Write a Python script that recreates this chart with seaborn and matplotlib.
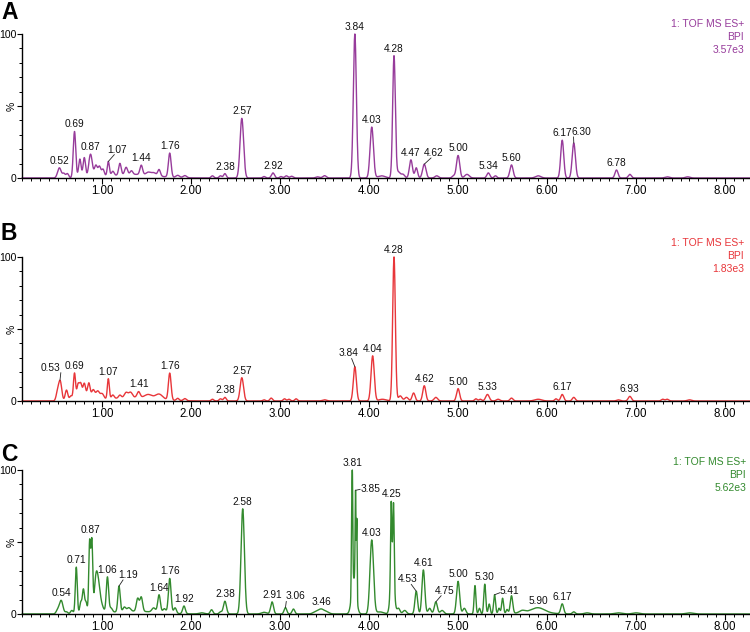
import numpy as np
import pandas as pd
import matplotlib
matplotlib.use("Agg")
import matplotlib.pyplot as plt
from matplotlib.ticker import MultipleLocator, FormatStrFormatter
import seaborn as sns

# ---- peak tables (time in min, height in %, sigma in min)
times_a = [0.52, 0.57, 0.61, 0.69, 0.75, 0.80, 0.87, 0.93, 0.97, 1.01, 1.07, 1.12,
           1.20, 1.27, 1.33, 1.44, 1.52, 1.58, 1.64, 1.76, 1.85, 1.93, 2.24, 2.33, 2.38,
           2.57, 2.82, 2.92, 3.01, 3.07, 3.13, 3.42, 3.50, 3.84, 4.03, 4.14, 4.28, 4.33,
           4.38, 4.47, 4.53, 4.62, 4.76, 4.95, 5.00, 5.10, 5.34, 5.42, 5.60, 5.90, 6.17,
           6.30, 6.78, 6.93, 7.35, 7.58]
heights_a = [7, 3, 3, 32, 13, 14, 16, 8, 7, 5, 10, 3,
             8, 5, 2.5, 6.5, 2, 2, 4.5, 16.5, 1.5, 1.5, 1.5, 1.5, 3,
             41, 1, 3.5, 1, 1.5, 1.2, 0.8, 1.6, 99, 35, 1.5, 84, 4,
             2.5, 12.5, 7, 9.5, 1.5, 1.5, 15.5, 2.5, 3.5, 1.5, 9, 1.5, 26,
             24, 5.5, 2.5, 0.8, 0.8]
widths_a = [0.02, 0.015, 0.015, 0.014, 0.014, 0.014, 0.02, 0.016, 0.015, 0.015, 0.012, 0.015,
            0.014, 0.016, 0.015, 0.015, 0.025, 0.025, 0.015, 0.015, 0.02, 0.02, 0.015, 0.015, 0.015,
            0.02, 0.015, 0.017, 0.015, 0.017, 0.017, 0.02, 0.02, 0.017, 0.019, 0.04, 0.015, 0.02,
            0.02, 0.017, 0.015, 0.019, 0.02, 0.017, 0.018, 0.025, 0.017, 0.015, 0.018, 0.03, 0.017,
            0.018, 0.017, 0.017, 0.025, 0.025]
labels_a = ["0.52", "0.69", "0.87", "1.07", "1.44", "1.76", "2.38", "2.57", "2.92", "3.84",
            "4.03", "4.28", "4.47", "4.62", "5.00", "5.34", "5.60", "6.17", "6.30", "6.78"]

times_b = [0.50, 0.53, 0.60, 0.65, 0.69, 0.73, 0.76, 0.80, 0.85, 0.90, 0.95, 1.00,
           1.07, 1.12, 1.20, 1.27, 1.32, 1.41, 1.52, 1.64, 1.76, 1.85, 1.93, 2.24, 2.33,
           2.38, 2.57, 2.82, 2.90, 3.05, 3.10, 3.18, 3.50, 3.84, 4.04, 4.15, 4.28, 4.35,
           4.42, 4.50, 4.62, 4.75, 5.00, 5.20, 5.25, 5.33, 5.45, 5.60, 5.90, 6.10, 6.17,
           6.30, 6.80, 6.93, 7.30, 7.35, 7.60]
heights_b = [6, 13, 7.5, 3.5, 19, 11, 11, 12, 12, 7, 6, 4,
             14, 2.5, 2, 3.5, 3.5, 4, 2.5, 3.5, 18.5, 1.5, 1.5, 1.2, 1.5,
             2.5, 16, 0.8, 2, 1.5, 1.2, 1.5, 0.8, 23.5, 31, 1.2, 99, 3.5,
             2.5, 5.5, 10.5, 2.5, 8.5, 1.5, 1.2, 4.5, 1.2, 2, 1.2, 1.5, 4.5,
             2.5, 0.8, 3.2, 1.2, 1.2, 0.8]
widths_b = [0.016, 0.017, 0.015, 0.015, 0.012, 0.014, 0.014, 0.016, 0.016, 0.018, 0.02, 0.02,
            0.011, 0.015, 0.015, 0.02, 0.02, 0.017, 0.04, 0.04, 0.015, 0.015, 0.017, 0.015, 0.015,
            0.015, 0.019, 0.015, 0.015, 0.015, 0.015, 0.015, 0.025, 0.017, 0.018, 0.04, 0.015, 0.02,
            0.02, 0.017, 0.017, 0.02, 0.017, 0.015, 0.015, 0.02, 0.02, 0.017, 0.04, 0.015, 0.017,
            0.017, 0.02, 0.018, 0.017, 0.017, 0.025]
labels_b = ["0.53", "0.69", "1.07", "1.41", "1.76", "2.38", "2.57", "3.84", "4.04", "4.28",
            "4.62", "5.00", "5.33", "6.17", "6.93"]

times_c = [0.50, 0.54, 0.60, 0.66, 0.71, 0.76, 0.79, 0.82, 0.86, 0.885, 0.93, 0.96, 1.00,
           1.06, 1.10, 1.19, 1.25, 1.30, 1.40, 1.44, 1.58, 1.64, 1.70, 1.76, 1.82, 1.92,
           2.12, 2.23, 2.33, 2.38, 2.58, 2.82, 2.91, 3.06, 3.15, 3.40, 3.46, 3.52, 3.83,
           3.803, 3.812, 3.848, 3.862, 4.03, 4.12, 4.2615, 4.248, 4.275, 4.33, 4.40, 4.53,
           4.61, 4.68, 4.75, 4.82, 5.00, 5.07, 5.19, 5.24, 5.30, 5.35, 5.41, 5.46, 5.50,
           5.55, 5.60, 5.72, 5.90, 6.17, 6.30, 6.45, 6.80, 7.00, 7.60]
heights_c = [2.5, 9.5, 1.5, 2.5, 33, 8, 17, 8, 50, 50, 22, 18, 4,
             25, 3, 18, 3, 2.5, 9, 10, 3, 12.5, 3, 24.5, 4, 5.5,
             0.8, 3, 1.5, 9, 74, 1.2, 8.5, 4.5, 3.5, 1.5, 3.2, 1.5, 25,
             45, 78, 68, 55, 52, 1.5, 35, 51, 50, 4, 2.5, 16,
             31, 4, 8.5, 2.5, 23, 4, 20, 4, 21, 7, 13.5, 4, 11,
             3, 12.5, 1.5, 3, 7, 1.5, 0.8, 0.8, 0.8, 0.8]
widths_c = [0.017, 0.02, 0.015, 0.015, 0.011, 0.012, 0.012, 0.012, 0.01, 0.01, 0.018, 0.02, 0.02,
            0.013, 0.015, 0.013, 0.015, 0.02, 0.015, 0.015, 0.02, 0.015, 0.017, 0.015, 0.015, 0.015,
            0.03, 0.015, 0.015, 0.017, 0.019, 0.03, 0.016, 0.015, 0.015, 0.03, 0.03, 0.03, 0.025,
            0.004, 0.005, 0.005, 0.004, 0.02, 0.04, 0.02, 0.007, 0.007, 0.017, 0.02, 0.015,
            0.016, 0.017, 0.017, 0.02, 0.017, 0.017, 0.01, 0.011, 0.011, 0.011, 0.011, 0.011, 0.011,
            0.011, 0.014, 0.03, 0.07, 0.016, 0.016, 0.03, 0.04, 0.04, 0.04]
labels_c = ["0.54", "0.71", "0.87", "1.06", "1.19", "1.64", "1.76", "1.92", "2.38", "2.58",
            "2.91", "3.06", "3.46", "3.81", "3.85", "4.03", "4.25", "4.53", "4.61", "4.75",
            "5.00", "5.30", "5.41", "5.90", "6.17"]

# broad low baseline humps (time, height, sigma)
humps_a = [(1.35, 2.5, 0.25)]
humps_b = [(1.35, 2.5, 0.25)]
humps_c = [(1.35, 2.0, 0.25), (5.85, 1.5, 0.15)]

info_a = "1: TOF MS ES+\nBPI\n3.57e3"
info_b = "1: TOF MS ES+\nBPI\n1.83e3"
info_c = "1: TOF MS ES+\nBPI\n5.62e3"

# labels with a leader line: text offset in points and where the line meets the text
leaders_a = {"1.07": (6.5, 5, 0.35, 0), "4.62": (7, 4.5, 0.35, 0), "6.30": (5.5, 4.5, 0.1, 0)}
leaders_b = {"0.53": (-6.5, 5.5, 1.0, 0), "3.84": (-4.5, 6, 0.65, 0)}
leaders_c = {"1.19": (6.5, 4.5, 0.25, 0), "3.85": (10.5, -2.5, 0.0, 0.45),
             "3.06": (7, 4.5, 0.05, 0), "4.53": (-6.5, 5, 0.7, 0),
             "4.75": (6.7, 4.5, 0.3, 0), "5.41": (11, -1, 0.0, 0.35)}

color_a = "#973c9b"
color_b = "#e8363a"
color_c = "#338a2e"

sns.set_style("ticks")
plt.rcParams["font.family"] = ["Liberation Sans", "DejaVu Sans"]

t = np.linspace(0.1, 8.28, 6000)


def build_trace(times, heights, widths, humps):
    y = np.zeros_like(t)
    for mu, h, s in zip(times, heights, widths):
        y += h * np.exp(-0.5 * ((t - mu) / s) ** 2)
    for mu, h, s in humps:
        y += h * np.exp(-0.5 * ((t - mu) / s) ** 2) * (t > 0.85)
    return y / y.max() * 100


def draw_panel(ax, df, color, labels, leaders):
    sns.lineplot(data=df, x="tempo", y="intensidade", ax=ax, color=color,
                 lw=1.0, estimator=None, clip_on=False)
    ax.set_xlim(0.1, 8.28)
    ax.set_ylim(0, 100)
    ax.set_xlabel("")
    ax.set_ylabel("")
    sns.despine(ax=ax)
    for s in ["left", "bottom"]:
        ax.spines[s].set_linewidth(1.0)
        ax.spines[s].set_color("black")
    ax.xaxis.set_major_locator(MultipleLocator(1))
    ax.xaxis.set_minor_locator(MultipleLocator(0.1))
    ax.xaxis.set_major_formatter(FormatStrFormatter("%.2f"))
    ax.set_yticks([0, 50, 100])
    ax.set_yticklabels(["0", "%", "100"])
    ax.get_yticklabels()[1].set_rotation(90)
    ax.yaxis.set_minor_locator(MultipleLocator(10))
    ax.tick_params(axis="x", which="major", length=4, width=0.8, labelsize=8.3,
                   pad=1.0, colors="black")
    ax.tick_params(axis="y", which="major", length=3.5, width=0.8, labelsize=7.5,
                   pad=0.5, colors="black")
    ax.tick_params(axis="both", which="minor", length=2.5, width=0.7, colors="black")

    tt = df["tempo"].values
    yy = df["intensidade"].values
    for lab in labels:
        x0 = float(lab)
        m = (tt > x0 - 0.018) & (tt < x0 + 0.018)
        i = np.argmax(yy[m])
        xp, yp = tt[m][i], yy[m][i]
        if lab in leaders:
            dx, dy, rx, ry = leaders[lab]
            ax.annotate(lab, xy=(xp, yp), xytext=(dx, dy), textcoords="offset points",
                        ha="center", va="bottom", fontsize=7.3, color="#111111",
                        annotation_clip=False,
                        arrowprops=dict(arrowstyle="-", lw=0.6, color="#222222",
                                        patchA=None, shrinkA=0, shrinkB=0,
                                        relpos=(rx, ry)))
        else:
            ax.annotate(lab, xy=(x0, yp), xytext=(0, 1.5), textcoords="offset points",
                        ha="center", va="bottom", fontsize=7.3, color="#111111",
                        annotation_clip=False)


fig = plt.figure(figsize=(7.5, 6.32), dpi=100)
W, H = 750.0, 632.0

panels = [
    ("A", times_a, heights_a, widths_a, humps_a, labels_a, leaders_a, color_a, info_a, 178, 1, 19, 744),
    ("B", times_b, heights_b, widths_b, humps_b, labels_b, leaders_b, color_b, info_b, 401, 222, 238, 744),
    ("C", times_c, heights_c, widths_c, humps_c, labels_c, leaders_c, color_c, info_c, 614, 443, 457, 746),
]

for letra, tms, hts, wds, hmp, labs, lds, cor, info, y0px, letra_px, info_px, info_x in panels:
    ax = fig.add_axes([22 / W, (H - y0px) / H, (W - 22) / W, 144 / H])
    df = pd.DataFrame({"tempo": t, "intensidade": build_trace(tms, hts, wds, hmp)})
    draw_panel(ax, df, cor, labs, lds)
    fig.text(1 / W, 1 - letra_px / H, letra, fontsize=16.5, fontweight="bold",
             va="top", ha="left", color="black")
    fig.text(info_x / W, 1 - info_px / H, info, fontsize=7.5, color=cor,
             ha="right", va="top", linespacing=1.4, multialignment="right")

fig.savefig("out.png", dpi=100)
print("ok")
